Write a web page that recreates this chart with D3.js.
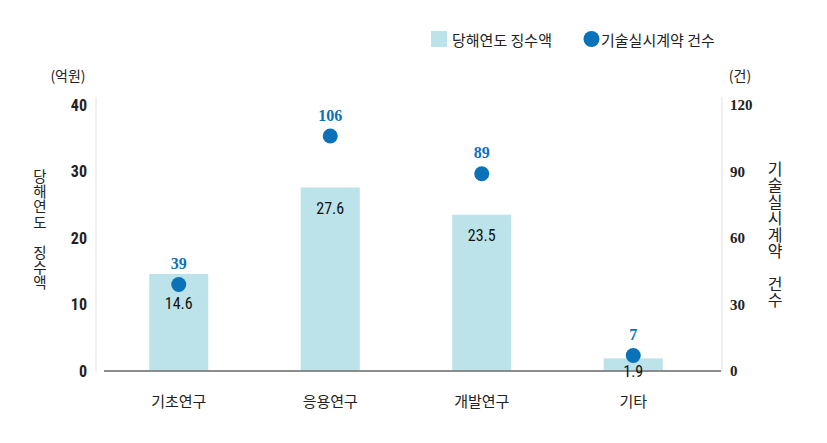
<!DOCTYPE html>
<html><head><meta charset="utf-8">
<script src="https://cdn.jsdelivr.net/npm/d3@7"></script>
<style>
html,body{margin:0;padding:0;background:#fff;}
svg{display:block;}
</style></head>
<body>
<svg id="chart" width="827" height="443"></svg>
<script>
const categories = ["기초연구", "응용연구", "개발연구", "기타"];
const amounts = [14.6, 27.6, 23.5, 1.9];      // 당해연도 징수액 (억원)
const contracts = [39, 106, 89, 7];           // 기술실시계약 건수 (건)
const leftTicks = [0, 10, 20, 30, 40];
const rightTicks = [0, 30, 60, 90, 120];
const seriesNames = ["당해연도 징수액", "기술실시계약 건수"];
const leftTitle = "당해연도 징수액";
const rightTitle = "기술실시계약 건수";
const leftUnit = "(억원)";
const rightUnit = "(건)";

const KR = "'Noto Sans CJK KR','Noto Sans',sans-serif";
const NUM = "'Roboto Condensed','Liberation Sans Narrow','Roboto',sans-serif";
const SERIF = "'Liberation Serif','DejaVu Serif',serif";
const barColor = "#bde3ea";
const dotColor = "#0a72b8";

const svg = d3.select("#chart");
const x = d3.scaleBand().domain(categories).range([103, 709]).paddingInner(0.61).paddingOuter(0.305);
const yL = d3.scaleLinear().domain([0, 40]).range([371, 105]);
const yR = d3.scaleLinear().domain([0, 120]).range([371, 105]);

// axis lines
svg.append("line").attr("x1", 96).attr("x2", 96).attr("y1", 97).attr("y2", 372).attr("stroke", "#e2e2e2").attr("stroke-width", 1);
svg.append("line").attr("x1", 722).attr("x2", 722).attr("y1", 97).attr("y2", 372).attr("stroke", "#e2e2e2").attr("stroke-width", 1);

// left ticks
const gl = svg.append("g").attr("transform", "translate(87,0)")
  .call(d3.axisLeft(yL).tickValues(leftTicks).tickSize(0).tickPadding(0));
gl.select(".domain").remove();
gl.selectAll("text").attr("font-family", NUM).attr("font-weight", "bold").attr("font-size", 16).attr("fill", "#222");

// right ticks
const gr = svg.append("g").attr("transform", "translate(730,0)")
  .call(d3.axisRight(yR).tickValues(rightTicks).tickSize(0).tickPadding(0));
gr.select(".domain").remove();
gr.selectAll("text").attr("font-family", SERIF).attr("font-weight", "bold").attr("font-size", 15).attr("fill", "#222");

// bars
svg.append("g").selectAll("rect").data(categories).join("rect")
  .attr("x", d => x(d)).attr("width", x.bandwidth())
  .attr("y", (d, i) => yL(amounts[i])).attr("height", (d, i) => yL(0) - yL(amounts[i]))
  .attr("fill", barColor);

// baseline
svg.append("line").attr("x1", 104).attr("x2", 721).attr("y1", yL(0)).attr("y2", yL(0)).attr("stroke", "#8c8c8c").attr("stroke-width", 2);

// bar labels
svg.append("g").selectAll("text").data(categories).join("text")
  .attr("x", d => x(d) + x.bandwidth() / 2)
  .attr("y", (d, i) => Math.min(yL(0), Math.max(yL(amounts[i]) + 21, yR(contracts[i]) + 19)))
  .attr("text-anchor", "middle").attr("dominant-baseline", "central")
  .attr("font-family", NUM).attr("font-size", 16).attr("fill", "#111")
  .text((d, i) => amounts[i].toFixed(1));

// dots
svg.append("g").selectAll("circle").data(categories).join("circle")
  .attr("cx", d => x(d) + x.bandwidth() / 2).attr("cy", (d, i) => yR(contracts[i]))
  .attr("r", 7.5).attr("fill", dotColor);

// dot labels
svg.append("g").selectAll("text").data(categories).join("text")
  .attr("x", d => x(d) + x.bandwidth() / 2).attr("y", (d, i) => yR(contracts[i]) - 21)
  .attr("text-anchor", "middle").attr("dominant-baseline", "central")
  .attr("font-family", SERIF).attr("font-weight", "bold").attr("font-size", 16).attr("fill", dotColor)
  .text((d, i) => contracts[i]);

// category labels
svg.append("g").selectAll("text").data(categories).join("text")
  .attr("x", d => x(d) + x.bandwidth() / 2).attr("y", 400)
  .attr("text-anchor", "middle").attr("dominant-baseline", "central")
  .attr("font-family", KR).attr("font-size", 15).attr("fill", "#222")
  .text(d => d);

// units
svg.append("text").attr("x", 68).attr("y", 75).attr("text-anchor", "middle").attr("dominant-baseline", "central")
  .attr("font-family", KR).attr("font-size", 14).attr("fill", "#222").text(leftUnit);
svg.append("text").attr("x", 740).attr("y", 75).attr("text-anchor", "middle").attr("dominant-baseline", "central")
  .attr("font-family", KR).attr("font-size", 14).attr("fill", "#222").text(rightUnit);

// axis titles (vertical, one character per line, as a single text element)
function verticalTitle(str, cx, top, pitch, size) {
  const t = svg.append("text").attr("x", cx).attr("y", top)
    .attr("text-anchor", "middle").attr("dominant-baseline", "central")
    .attr("font-family", KR).attr("font-size", size).attr("fill", "#222");
  t.selectAll("tspan").data(Array.from(str)).join("tspan")
    .attr("x", cx).attr("dy", (d, i) => i === 0 ? 0 : pitch)
    .attr("dominant-baseline", "central")
    .text(d => d === " " ? "\u00a0" : d);
}
verticalTitle(leftTitle, 40, 175, 15.2, 14.5);
verticalTitle(rightTitle, 775, 168, 16.4, 16);

// legend
const lg = svg.append("g");
lg.append("rect").attr("x", 431).attr("y", 31).attr("width", 16).attr("height", 16).attr("fill", barColor);
lg.append("text").attr("x", 452).attr("y", 39).attr("dominant-baseline", "central")
  .attr("font-family", KR).attr("font-size", 15).attr("fill", "#222").text(seriesNames[0]);
lg.append("circle").attr("cx", 591.5).attr("cy", 39).attr("r", 8).attr("fill", dotColor);
lg.append("text").attr("x", 601).attr("y", 39).attr("dominant-baseline", "central")
  .attr("font-family", KR).attr("font-size", 15).attr("fill", "#222").text(seriesNames[1]);
</script>
</body></html>
